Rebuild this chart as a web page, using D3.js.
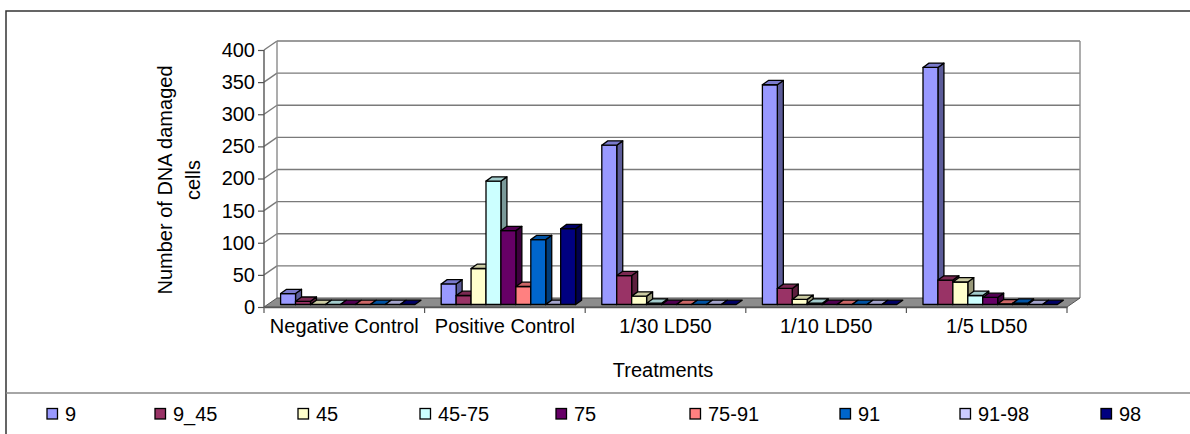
<!DOCTYPE html>
<html>
<head>
<meta charset="utf-8">
<script src="https://cdn.jsdelivr.net/npm/d3@7"></script>
<style>
  html, body { margin: 0; padding: 0; background: #fff; }
  svg { display: block; font-family: Arial, "Liberation Sans", sans-serif; }
</style>
</head>
<body>
<svg id="chart" width="1190" height="434"></svg>
<script>
// Treatment groups along the category axis
const categories = ["Negative Control", "Positive Control", "1/30 LD50", "1/10 LD50", "1/5 LD50"];

// Damage classes (series) and their fill colours
const series = ["9", "9_45", "45", "45-75", "75", "75-91", "91", "91-98", "98"];
const colors = ["#9999FF", "#993366", "#FFFFCC", "#CCFFFF", "#660066", "#FF8080", "#0066CC", "#CCCCFF", "#000080"];

// Number of DNA damaged cells, one array per damage class, in category order
const v9    = [17, 32, 248, 342, 369];
const v9_45 = [5, 14, 45, 25, 38];
const v45   = [0, 56, 13, 8, 35];
const v45_75 = [0, 192, 2, 2, 14];
const v75   = [0, 115, 0, 0, 11];
const v75_91 = [0, 28, 0, 0, 1];
const v91   = [0, 101, 0, 0, 2];
const v91_98 = [0, 0, 0, 0, 0];
const v98   = [0, 118, 0, 0, 0];
const values = [v9, v9_45, v45, v45_75, v75, v75_91, v91, v91_98, v98];

// Value axis ticks
const yTicks = [0, 50, 100, 150, 200, 250, 300, 350, 400];

const svg = d3.select("#chart");
const FONT = 20;

// Front plane of the 3-D plot box
const pLeft = 264, pRight = 1067, pTop = 50, pBottom = 307;
// Depth of the box (oblique projection offset)
const DX = 13, DY = -9;
// Bars sit in the middle of the depth
const BX0 = 3.5, BY0 = -2.5, BDX = 6, BDY = -4.3;

const x = d3.scaleBand().domain(categories).range([pLeft, pRight]).padding(0);
const gapOuter = 13.1;
const xs = d3.scaleBand().domain(series).range([gapOuter, x.bandwidth() - gapOuter]).padding(0);
const y = d3.scaleLinear().domain([0, 400]).range([pBottom, pTop]);

// Outer frame and legend divider
svg.append("path").attr("d", "M6,434 V11 H1190")
  .attr("fill", "none").attr("stroke", "#333").attr("stroke-width", 1.5);
svg.append("line").attr("x1", 6).attr("x2", 1190).attr("y1", 393).attr("y2", 393)
  .attr("stroke", "#888").attr("stroke-width", 1.5);

const plot = svg.append("g");

// Back wall gridlines and left side wall diagonals
yTicks.forEach(t => {
  if (t === 0) return;
  plot.append("line")
    .attr("x1", pLeft + DX).attr("x2", pRight + DX)
    .attr("y1", y(t) + DY).attr("y2", y(t) + DY)
    .attr("stroke", "#7a7a7a").attr("stroke-width", 1.4);
  plot.append("line")
    .attr("x1", pLeft).attr("x2", pLeft + DX)
    .attr("y1", y(t)).attr("y2", y(t) + DY)
    .attr("stroke", "#7a7a7a").attr("stroke-width", 1.4);
});
// Back wall vertical edges
plot.append("line").attr("x1", pLeft + DX).attr("x2", pLeft + DX)
  .attr("y1", y(400) + DY).attr("y2", y(0) + DY).attr("stroke", "#8a8a8a").attr("stroke-width", 1.4);
plot.append("line").attr("x1", pRight + DX).attr("x2", pRight + DX)
  .attr("y1", y(400) + DY).attr("y2", y(0) + DY).attr("stroke", "#8a8a8a").attr("stroke-width", 1.4);

// Floor
plot.append("path")
  .attr("d", `M${pLeft},${pBottom} L${pRight},${pBottom} L${pRight + DX},${pBottom + DY} L${pLeft + DX},${pBottom + DY} Z`)
  .attr("fill", "#8c8c8c").attr("stroke", "#555").attr("stroke-width", 1);

// Value axis (front left edge)
plot.append("line").attr("x1", pLeft).attr("x2", pLeft).attr("y1", pTop).attr("y2", pBottom)
  .attr("stroke", "#555").attr("stroke-width", 1.4);
const yAxis = d3.axisLeft(y).tickValues(yTicks).tickSize(6).tickPadding(3);
const yg = plot.append("g").attr("transform", `translate(${pLeft},0)`).call(yAxis);
yg.select(".domain").remove();
yg.selectAll(".tick line").attr("stroke", "#555").attr("stroke-width", 1.2);
yg.selectAll(".tick text").attr("font-size", FONT).attr("fill", "#000")
  .attr("font-family", "Arial, 'Liberation Sans', sans-serif");

// Category axis along the front floor edge
const xAxis = d3.axisBottom(x).tickSize(0).tickPadding(12);
const xg = plot.append("g").attr("transform", `translate(0,${pBottom})`).call(xAxis);
xg.select(".domain").attr("stroke", "#555").attr("stroke-width", 1.4);
xg.selectAll(".tick text").attr("font-size", FONT).attr("fill", "#000")
  .attr("font-family", "Arial, 'Liberation Sans', sans-serif");
// Category boundary ticks
const bounds = categories.map(c => x(c)).concat([pRight]);
plot.selectAll(".cat-tick").data(bounds).join("line")
  .attr("x1", d => d).attr("x2", d => d)
  .attr("y1", pBottom).attr("y2", pBottom + 6)
  .attr("stroke", "#555").attr("stroke-width", 1.2);

// 3-D columns
function shade(c, k) { const h = d3.rgb(c); return d3.rgb(h.r * k, h.g * k, h.b * k).toString(); }
const bars = plot.append("g");
categories.forEach((cat, ci) => {
  series.forEach((s, si) => {
    const v = values[si][ci];
    const x0 = x(cat) + xs(s) + BX0;
    const w = xs.bandwidth();
    const yb = y(0) + BY0;
    const yTopFace = y(v) + BY0;
    const col = colors[si];
    const g = bars.append("g").attr("stroke", "#000").attr("stroke-width", 1.3).attr("stroke-linejoin", "round");
    if (v > 0) {
      g.append("path")
        .attr("d", `M${x0 + w},${yTopFace} L${x0 + w + BDX},${yTopFace + BDY} L${x0 + w + BDX},${yb + BDY} L${x0 + w},${yb} Z`)
        .attr("fill", shade(col, 0.6));
      g.append("rect").attr("x", x0).attr("y", yTopFace).attr("width", w).attr("height", yb - yTopFace)
        .attr("fill", col);
    }
    g.append("path")
      .attr("d", `M${x0},${yTopFace} L${x0 + w},${yTopFace} L${x0 + w + BDX},${yTopFace + BDY} L${x0 + BDX},${yTopFace + BDY} Z`)
      .attr("fill", shade(col, 0.8));
  });
});

// Axis titles
svg.append("text").attr("x", 663).attr("y", 377)
  .attr("text-anchor", "middle").attr("font-size", FONT).text("Treatments");
const yTitle = svg.append("text").attr("transform", "translate(177,180) rotate(-90)")
  .attr("text-anchor", "middle").attr("font-size", FONT);
yTitle.append("tspan").attr("x", 0).attr("dy", "-0.25em").text("Number of DNA damaged");
yTitle.append("tspan").attr("x", 0).attr("dy", "1.4em").text("cells");

// Legend
const legendX = [47, 155, 298, 420, 556, 690, 840, 960, 1101];
const lg = svg.append("g");
series.forEach((s, i) => {
  lg.append("rect").attr("x", legendX[i]).attr("y", 408.5).attr("width", 10.5).attr("height", 10.5)
    .attr("fill", colors[i]).attr("stroke", "#000").attr("stroke-width", 1.3);
  lg.append("text").attr("x", legendX[i] + 18).attr("y", 420.5)
    .attr("font-size", FONT).text(s);
});
</script>
</body>
</html>
